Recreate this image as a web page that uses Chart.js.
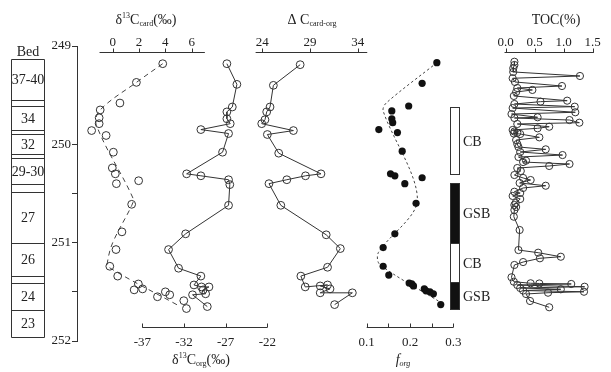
<!DOCTYPE html>
<html>
<head>
<meta charset="utf-8">
<script src="https://cdn.jsdelivr.net/npm/chart.js@4.4.1/dist/chart.umd.min.js"></script>
<style>
  html, body { margin: 0; padding: 0; background: #fff; }
  #wrap { width: 611px; height: 372px; }
</style>
</head>
<body>
<div id="wrap"><canvas id="chart" width="611" height="372"></canvas></div>
<script>
// ── Data (depth in m) ────────────────────────────────────────────────────────

const yTicks = [249, 250, 250.5, 251, 251.5, 252];

// δ13C carb
const carbDepth = [249.18, 249.37, 249.58, 249.65, 249.73, 249.79, 249.86, 249.91, 250.08, 250.24, 250.30, 250.40, 250.37,
                   250.61, 250.89, 251.07, 251.24, 251.34, 251.42, 251.47, 251.48, 251.50, 251.53, 251.55, 251.59, 251.67];
const carbValue = [3.8, 1.8, 0.55, -0.95, -1.03, -1.03, -1.6, -0.5, 0.05, -0.03, 0.2, 0.28, 1.97,
                   1.44, 0.7, 0.25, -0.22, 0.38, 1.95, 2.27, 1.63, 4.0, 4.33, 3.4, 5.4, 5.6];
const carbTrendDepth = [249.18, 249.37, 249.65, 249.80, 250.55, 250.62, 251.0, 251.2, 251.25, 251.64];
const carbTrendValue = [3.8, 1.8, -0.95, -1.25, 1.55, 1.45, 0.0, -0.4, -0.3, 5.0];
const carbTicks = [0, 2, 4, 6];
const carbAxisRange = [-1, 7];

// δ13C org
const orgDepth = [249.18, 249.39, 249.62, 249.67, 249.74, 249.79, 249.85, 249.89, 250.08, 250.30, 250.32, 250.36, 250.41,
                  250.62, 250.91, 251.07, 251.26, 251.34, 251.43, 251.45, 251.45, 251.48, 251.52, 251.53, 251.65];
const orgValue = [-26.85, -25.65, -26.2, -26.85, -26.85, -26.45, -29.97, -26.65, -27.37, -31.68, -29.97, -26.65, -26.5,
                  -26.65, -31.8, -33.85, -32.65, -29.97, -30.8, -29.9, -29.0, -29.7, -29.4, -30.97, -29.2];
const orgTicks = [-37, -32, -27, -22];
const orgAxisRange = [-37, -22];

// Δ C carb-org
const dcDepth = [249.19, 249.40, 249.62, 249.67, 249.75, 249.79, 249.86, 249.90, 250.09, 250.30, 250.32, 250.36, 250.40,
                 250.62, 250.92, 251.06, 251.25, 251.34, 251.45, 251.43, 251.44, 251.47, 251.51, 251.51, 251.63];
const dcValue = [27.97, 25.16, 24.81, 24.46, 24.28, 23.94, 27.26, 24.53, 25.72, 30.15, 28.53, 26.57, 24.7,
                 25.94, 30.7, 32.18, 30.84, 28.04, 28.5, 30.84, 30.07, 31.1, 30.07, 33.44, 31.58];
const dcTicks = [24, 29, 34];
const dcAxisRange = [23.3, 35];

// f org
const forgDepth = [249.17, 249.38, 249.61, 249.66, 249.74, 249.78, 249.85, 249.88, 250.07, 250.30, 250.32, 250.34, 250.40,
                   250.60, 250.91, 251.05, 251.24, 251.33, 251.41, 251.42, 251.44, 251.47, 251.49, 251.50, 251.52, 251.63];
const forgValue = [0.262, 0.228, 0.197, 0.158, 0.158, 0.16, 0.128, 0.171, 0.182, 0.155, 0.165, 0.228, 0.188,
                   0.214, 0.165, 0.138, 0.138, 0.151, 0.198, 0.204, 0.208, 0.233, 0.237, 0.246, 0.254, 0.271];
const forgTrendDepth = [249.17, 249.58, 249.66, 250.57, 251.10, 251.22, 251.60];
const forgTrendValue = [0.262, 0.145, 0.138, 0.217, 0.127, 0.13, 0.268];
const forgTicks = [0.1, 0.15, 0.2, 0.25, 0.3];
const forgTickLabels = ['0.1', '', '0.2', '', '0.3'];
const forgAxisRange = [0.1, 0.3];

// TOC (%)
const tocDepth = [249.160, 249.193, 249.227, 249.264, 249.305, 249.328, 249.366, 249.407, 249.427, 249.447, 249.468, 249.508,
                  249.556, 249.566, 249.590, 249.617, 249.631, 249.674, 249.692, 249.725, 249.732, 249.753, 249.780, 249.793,
                  249.821, 249.837, 249.854, 249.870, 249.882, 249.890, 249.895, 249.929, 249.956, 249.997, 250.027, 250.051,
                  250.078, 250.109, 250.129, 250.166, 250.180, 250.200, 250.220, 250.241, 250.271, 250.312, 250.342, 250.363,
                  250.393, 250.421, 250.444, 250.482, 250.495, 250.525, 250.556, 250.597, 250.617, 250.637, 250.668, 250.736,
                  250.871, 251.075, 251.102, 251.143, 251.159, 251.197, 251.227, 251.352, 251.397, 251.413, 251.415, 251.420,
                  251.431, 251.448, 251.461, 251.474, 251.487, 251.499, 251.509, 251.522, 251.593, 251.657];
const tocValue = [0.15, 0.15, 0.13, 0.13, 1.28, 0.12, 0.16, 0.97, 0.2, 0.46, 0.18, 0.14,
                  1.06, 0.6, 0.15, 1.19, 0.12, 1.2, 0.1, 0.55, 0.15, 1.1, 1.27, 0.2,
                  0.75, 0.55, 0.12, 0.15, 0.2, 0.14, 0.25, 0.58, 0.18, 0.2, 0.22, 0.69,
                  0.25, 0.98, 0.22, 0.35, 0.3, 1.1, 0.75, 0.2, 0.26, 0.15, 0.3, 0.43,
                  0.24, 0.69, 0.3, 0.15, 0.25, 0.12, 0.25, 0.17, 0.15, 0.18, 0.15, 0.14,
                  0.24, 0.22, 0.56, 0.95, 0.59, 0.3, 0.15, 0.1, 0.14, 0.43, 0.58, 1.13,
                  0.2, 1.36, 0.25, 0.95, 0.3, 1.35, 0.73, 0.35, 0.42, 0.75];
const tocTicks = [0, 0.5, 1, 1.5];
const tocTickLabels = ['0.0', '0.5', '1.0', '1.5'];
const tocAxisRange = [-0.02, 1.52];

// Bed column (boundaries top→bottom) and CB / GSB zones
const bedEdges = [249.132, 249.549, 249.610, 249.854, 249.898, 250.098, 250.142, 250.406, 250.482,
                  251.000, 251.334, 251.410, 251.685, 251.960];
const bedLabels = ['37-40', '', '34', '', '32', '', '29-30', '', '27', '26', '', '24', '23'];
const zoneTop = [249.617, 250.390, 251.007, 251.397];
const zoneBottom = [250.305, 251.007, 251.397, 251.678];
const zoneFilled = [false, true, false, true];
const zoneLabels = ['CB', 'GSB', 'CB', 'GSB'];

// ── Layout ────────────────────────────────────────────────────────────────────

const FONT = "'Liberation Serif', 'Times New Roman', serif";
const INK = '#222';
const AREA_L = 77, AREA_R = 600;
const TOP_AXIS_Y = 52, BOTTOM_AXIS_Y = 327;

// value range of a full-width x scale so that v0 lands on pixel p0 and v1 on p1
function span(v0, p0, v1, p1) {
    const k = (v1 - v0) / (p1 - p0);
    return { min: v0 + (AREA_L - p0) * k, max: v0 + (AREA_R - p0) * k };
}

const pts = (depth, vals) => depth.map((d, i) => ({ x: vals[i], y: d }));

const hidden = (id, r) => ({ type: 'linear', axis: 'x', display: false, min: r.min, max: r.max });

const openPts = { pointRadius: 3.9, pointBorderWidth: 1, pointBorderColor: '#333',
                  pointBackgroundColor: 'rgba(0,0,0,0)', borderColor: '#333', borderWidth: 1 };

// ── Overlay: panel axes, titles, bed column, zones ───────────────────────────

function rich(ctx, parts, x, baseY, align) {
    // parts: [text, size, yShift, italic]
    const f = p => `${p[3] ? 'italic ' : ''}${p[1]}px ${FONT}`;
    let w = 0;
    parts.forEach(p => { ctx.font = f(p); w += ctx.measureText(p[0]).width; });
    let cx = align === 'center' ? x - w / 2 : x;
    ctx.textAlign = 'left';
    ctx.textBaseline = 'alphabetic';
    parts.forEach(p => { ctx.font = f(p); ctx.fillText(p[0], cx, baseY + p[2]); cx += ctx.measureText(p[0]).width; });
}

const axisDefs = [
    { id: 'xCarb', side: 'top',    range: carbAxisRange, ticks: carbTicks, labels: carbTicks.map(String) },
    { id: 'xOrg',  side: 'bottom', range: orgAxisRange,  ticks: orgTicks,  labels: orgTicks.map(String) },
    { id: 'xDc',   side: 'top',    range: dcAxisRange,   ticks: dcTicks,   labels: dcTicks.map(String) },
    { id: 'xForg', side: 'bottom', range: forgAxisRange, ticks: forgTicks, labels: forgTickLabels },
    { id: 'xToc',  side: 'top',    range: tocAxisRange,  ticks: tocTicks,  labels: tocTickLabels }
];

const overlay = {
    id: 'overlay',
    afterDraw(chart) {
        const ctx = chart.ctx, ys = chart.scales.y;
        ctx.save();
        ctx.strokeStyle = '#333';
        ctx.fillStyle = INK;
        ctx.lineWidth = 1;

        // panel axes
        axisDefs.forEach(a => {
            const s = chart.scales[a.id];
            const y = (a.side === 'top' ? TOP_AXIS_Y : BOTTOM_AXIS_Y) + 0.5;
            ctx.beginPath();
            ctx.moveTo(s.getPixelForValue(a.range[0]), y);
            ctx.lineTo(s.getPixelForValue(a.range[1]), y);
            a.ticks.forEach(t => {
                const x = Math.round(s.getPixelForValue(t)) + 0.5;
                ctx.moveTo(x, y); ctx.lineTo(x, y - 4);
            });
            ctx.stroke();
            ctx.font = `13px ${FONT}`;
            ctx.textAlign = 'center';
            ctx.textBaseline = 'alphabetic';
            a.ticks.forEach((t, i) => {
                const ly = a.side === 'top' ? y - 7 : y + 18;
                ctx.fillText(a.labels[i], s.getPixelForValue(t), ly);
            });
        });

        // axis titles
        rich(ctx, [['δ', 14, 0], ['13', 8, -6], ['C', 14, 0], ['card', 8, 2], ['(‰)', 14, 0]], 146, 24, 'center');
        rich(ctx, [['Δ C', 14, 0], ['card-org', 8, 2]], 312, 24, 'center');
        rich(ctx, [['TOC(%)', 14, 0]], 556, 24, 'center');
        rich(ctx, [['δ', 14, 0], ['13', 8, -6], ['C', 14, 0], ['org', 8, 2], ['(‰)', 14, 0]], 201, 364, 'center');
        rich(ctx, [['f', 14, 0, true], ['org', 8, 2, true]], 403, 364, 'center');

        // bed column
        const bx0 = 11.5, bx1 = 44.5;
        rich(ctx, [['Bed', 14, 0]], 28, 56, 'center');
        ctx.beginPath();
        bedEdges.forEach(d => {
            const y = Math.round(ys.getPixelForValue(d)) + 0.5;
            ctx.moveTo(bx0, y); ctx.lineTo(bx1, y);
        });
        const bTop = Math.round(ys.getPixelForValue(bedEdges[0])) + 0.5;
        const bBot = Math.round(ys.getPixelForValue(bedEdges[bedEdges.length - 1])) + 0.5;
        ctx.moveTo(bx0, bTop); ctx.lineTo(bx0, bBot);
        ctx.moveTo(bx1, bTop); ctx.lineTo(bx1, bBot);
        ctx.stroke();
        ctx.font = `14px ${FONT}`;
        ctx.textAlign = 'center';
        ctx.textBaseline = 'middle';
        bedLabels.forEach((lab, i) => {
            if (!lab) return;
            const y = (ys.getPixelForValue(bedEdges[i]) + ys.getPixelForValue(bedEdges[i + 1])) / 2;
            ctx.fillText(lab, 28, y + 1);
        });

        // CB / GSB zones
        const zx = 450.5, zw = 9;
        zoneTop.forEach((t, i) => {
            const y0 = Math.round(ys.getPixelForValue(t)) + 0.5;
            const y1 = Math.round(ys.getPixelForValue(zoneBottom[i])) + 0.5;
            if (zoneFilled[i]) { ctx.fillStyle = '#111'; ctx.fillRect(zx, y0, zw, y1 - y0); }
            ctx.strokeRect(zx, y0, zw, y1 - y0);
            ctx.fillStyle = INK;
            ctx.font = `14px ${FONT}`;
            ctx.textAlign = 'left';
            ctx.textBaseline = 'middle';
            ctx.fillText(zoneLabels[i], 463, (y0 + y1) / 2 + 1);
        });

        ctx.restore();
    }
};

// ── Chart ─────────────────────────────────────────────────────────────────────

new Chart(document.getElementById('chart'), {
    type: 'scatter',
    data: {
        datasets: [
            { data: pts(carbDepth, carbValue), xAxisID: 'xCarb', ...openPts, showLine: false },
            { data: pts(carbTrendDepth, carbTrendValue), xAxisID: 'xCarb', showLine: true, pointRadius: 0,
              borderColor: '#444', borderWidth: 1, borderDash: [5, 4], tension: 0.35 },
            { data: pts(orgDepth, orgValue), xAxisID: 'xOrg', ...openPts, showLine: true },
            { data: pts(dcDepth, dcValue), xAxisID: 'xDc', ...openPts, showLine: true },
            { data: pts(forgDepth, forgValue), xAxisID: 'xForg', showLine: false, pointRadius: 3.6,
              pointBackgroundColor: '#111', pointBorderColor: '#111', pointBorderWidth: 0 },
            { data: pts(forgTrendDepth, forgTrendValue), xAxisID: 'xForg', showLine: true, pointRadius: 0,
              borderColor: '#444', borderWidth: 1, borderDash: [2.5, 2.5], tension: 0.3 },
            { data: pts(tocDepth, tocValue), xAxisID: 'xToc', ...openPts, pointRadius: 3.6, showLine: true }
        ]
    },
    options: {
        responsive: false,
        animation: false,
        devicePixelRatio: 1,
        layout: { padding: { left: 0, right: 611 - AREA_R, top: 46, bottom: 31 } },
        plugins: { legend: { display: false }, tooltip: { enabled: false } },
        scales: {
            y: {
                type: 'linear', position: 'left', reverse: true, min: 249, max: 252,
                afterBuildTicks: s => { s.ticks = yTicks.map(v => ({ value: v })); },
                afterFit: s => { s.width = AREA_L; },
                grid: { drawOnChartArea: false, drawTicks: true, tickLength: 5, color: '#333' },
                border: { display: true, color: '#333', width: 1 },
                ticks: { autoSkip: false, padding: 1, color: INK, font: { family: FONT, size: 13 },
                         callback: v => Number.isInteger(v) ? String(v) : '' }
            },
            xCarb: hidden('xCarb', span(0, 112.7, 6, 191.7)),
            xOrg:  hidden('xOrg',  span(-37, 142.3, -22, 267.3)),
            xDc:   hidden('xDc',   span(24, 262.3, 34, 357.7)),
            xForg: hidden('xForg', span(0.1, 366.7, 0.3, 453.3)),
            xToc:  hidden('xToc',  span(0, 505.7, 1.5, 592.7))
        }
    },
    plugins: [overlay]
});
</script>
</body>
</html>
